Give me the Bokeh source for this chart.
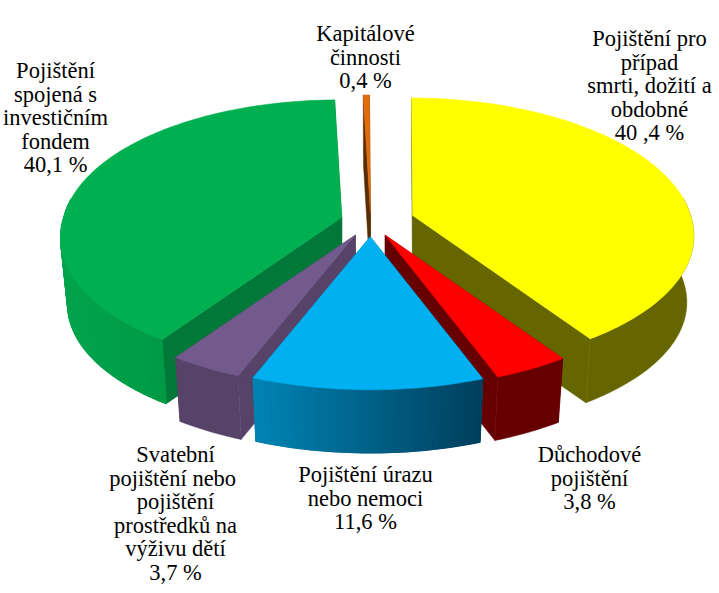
import math
from bokeh.plotting import figure
from bokeh.embed import file_html
from bokeh.resources import INLINE
from bokeh.core.properties import value

# ---- data (clockwise from 12 o'clock) ----
names = ["Pojištění pro případ smrti, dožití a obdobné", "Důchodové pojištění", "Pojištění úrazu nebo nemoci",
         "Svatební pojištění nebo pojištění prostředků na výživu dětí", "Pojištění spojená s investičním fondem",
         "Kapitálové činnosti"]
shares = [40.4, 3.8, 11.6, 3.7, 40.1, 0.4]
explode = [44, 32, 32, 32, 30, 19]
face_colors = ["#FFFF00", "#FF0000", "#00B0F0", "#725A8C", "#00B050", "#E36C0A"]
wall_colors = ["#666600", "#660000", "#005F80", "#574268", "#007838", "#5A2D05"]
rim_left = ["#666600", "#660000", "#0084B4", "#574268", "#00A44C", "#5A2D05"]
rim_right = ["#666600", "#660000", "#003F5C", "#574268", "#00883C", "#5A2D05"]
label_lines = [
    (["Kapitálové", "činnosti", "0,4 %"], 365, 33),
    (["Pojištění pro", "případ", "smrti, dožití a", "obdobné", "40 ,4 %"], 649, 38),
    (["Pojištění", "spojená s", "investičním", "fondem", "40,1 %"], 55, 70),
    (["Svatební", "pojištění  nebo", "pojištění", "prostředků na", "výživu dětí", "3,7 %"], 175, 454),
    (["Pojištění úrazu", "nebo nemoci", "11,6 %"], 365, 474),
    (["Důchodové", "pojištění", "3,8 %"], 589, 454),
]

# ---- projection ----
CX, CY, R, K, P, SHEAR, DEPTH, SHRINK, LATERAL = 370, 221, 278, 0.478, 0.131, 0.025, 67, 0.975, 6


def project(apex, th, r=1.0, bottom=False):
    fx, fy = r * math.sin(th), r * math.cos(th) * -1  # fy>0 toward the viewer
    s = 1 / (1 - P * fy)
    dx, dy = R * fx * s, R * K * fy * s
    if dy < 0:
        dx += SHEAR * dy
    else:
        dx += LATERAL * fx * fy
    if bottom:
        return apex[0] + dx * SHRINK, apex[1] + dy * SHRINK + DEPTH
    return apex[0] + dx, apex[1] + dy


def mix(a, b, t):
    ca = [int(a[i:i + 2], 16) for i in (1, 3, 5)]
    cb = [int(b[i:i + 2], 16) for i in (1, 3, 5)]
    return "#%02x%02x%02x" % tuple(round(x + (y - x) * t) for x, y in zip(ca, cb))


p = figure(width=719, height=593, x_range=(0, 719), y_range=(593, 0), toolbar_location=None,
           output_backend="svg", min_border=0, outline_line_color=None)
p.axis.visible = False
p.grid.visible = False

total = sum(shares)
slices, a = [], 0.008
for i, v in enumerate(shares):
    b = a + 2 * math.pi * v / total
    mid = (a + b) / 2
    apex = (CX + explode[i] * math.sin(mid), CY - K * explode[i] * math.cos(mid))
    slices.append((i, a, b, apex))
    a = b

for idx in [4, 0, 5, 3, 1, 2]:
    i, a, b, apex = slices[idx]
    n = max(4, int((b - a) / 0.02))
    ths = [a + (b - a) * j / n for j in range(n + 1)]
    pts = [project(apex, t) for t in ths]
    low = [project(apex, t, bottom=True) for t in ths]
    # radial walls
    xs, ys, cs = [], [], []
    for th in (a, b):
        tx, ty = project(apex, th)
        ux, uy = project(apex, th, bottom=True)
        ax, ay = project(apex, th, 0)
        bx, by = project(apex, th, 0, bottom=True)
        xs.append([ax, tx, ux, bx]); ys.append([ay, ty, uy, by]); cs.append(wall_colors[i])
    p.patches(xs, ys, fill_color=cs, line_color=cs, line_width=0.5)
    # outer rim: solid base, then strips shaded left to right where the shade varies
    vis = [j for j in range(n + 1) if math.cos(ths[j]) <= 0.15]
    base = mix(rim_left[i], rim_right[i], 0.5)
    if vis:
        p.patch([pts[j][0] for j in vis] + [low[j][0] for j in reversed(vis)],
                [pts[j][1] for j in vis] + [low[j][1] for j in reversed(vis)],
                fill_color=base, line_color=base, line_width=0.5)
    if rim_left[i] != rim_right[i]:
        xs, ys, cs = [], [], []
        xmin, xmax = min(q[0] for q in pts), max(q[0] for q in pts)
        for j in vis[:-1]:
            t = ((pts[j][0] + pts[j + 1][0]) / 2 - xmin) / max(1, xmax - xmin)
            xs.append([pts[j][0], pts[j + 1][0], low[j + 1][0], low[j][0]])
            ys.append([pts[j][1], pts[j + 1][1], low[j + 1][1], low[j][1]])
            cs.append(mix(rim_left[i], rim_right[i], t))
        p.patches(xs, ys, fill_color=cs, line_color=cs, line_width=1.2)
    p.patch([apex[0]] + [q[0] for q in pts], [apex[1]] + [q[1] for q in pts],
            fill_color=face_colors[i], line_color=face_colors[i], line_width=0.5)

LINE = 23.6
for lines, x, y in label_lines:
    p.text([x] * len(lines), [y + j * LINE for j in range(len(lines))], text=lines,
           text_font=value("Liberation Serif"), text_font_size="22.5px", text_color="#000000",
           text_align="center", text_baseline="middle")

open("out.html", "w").write(file_html(p, INLINE))
